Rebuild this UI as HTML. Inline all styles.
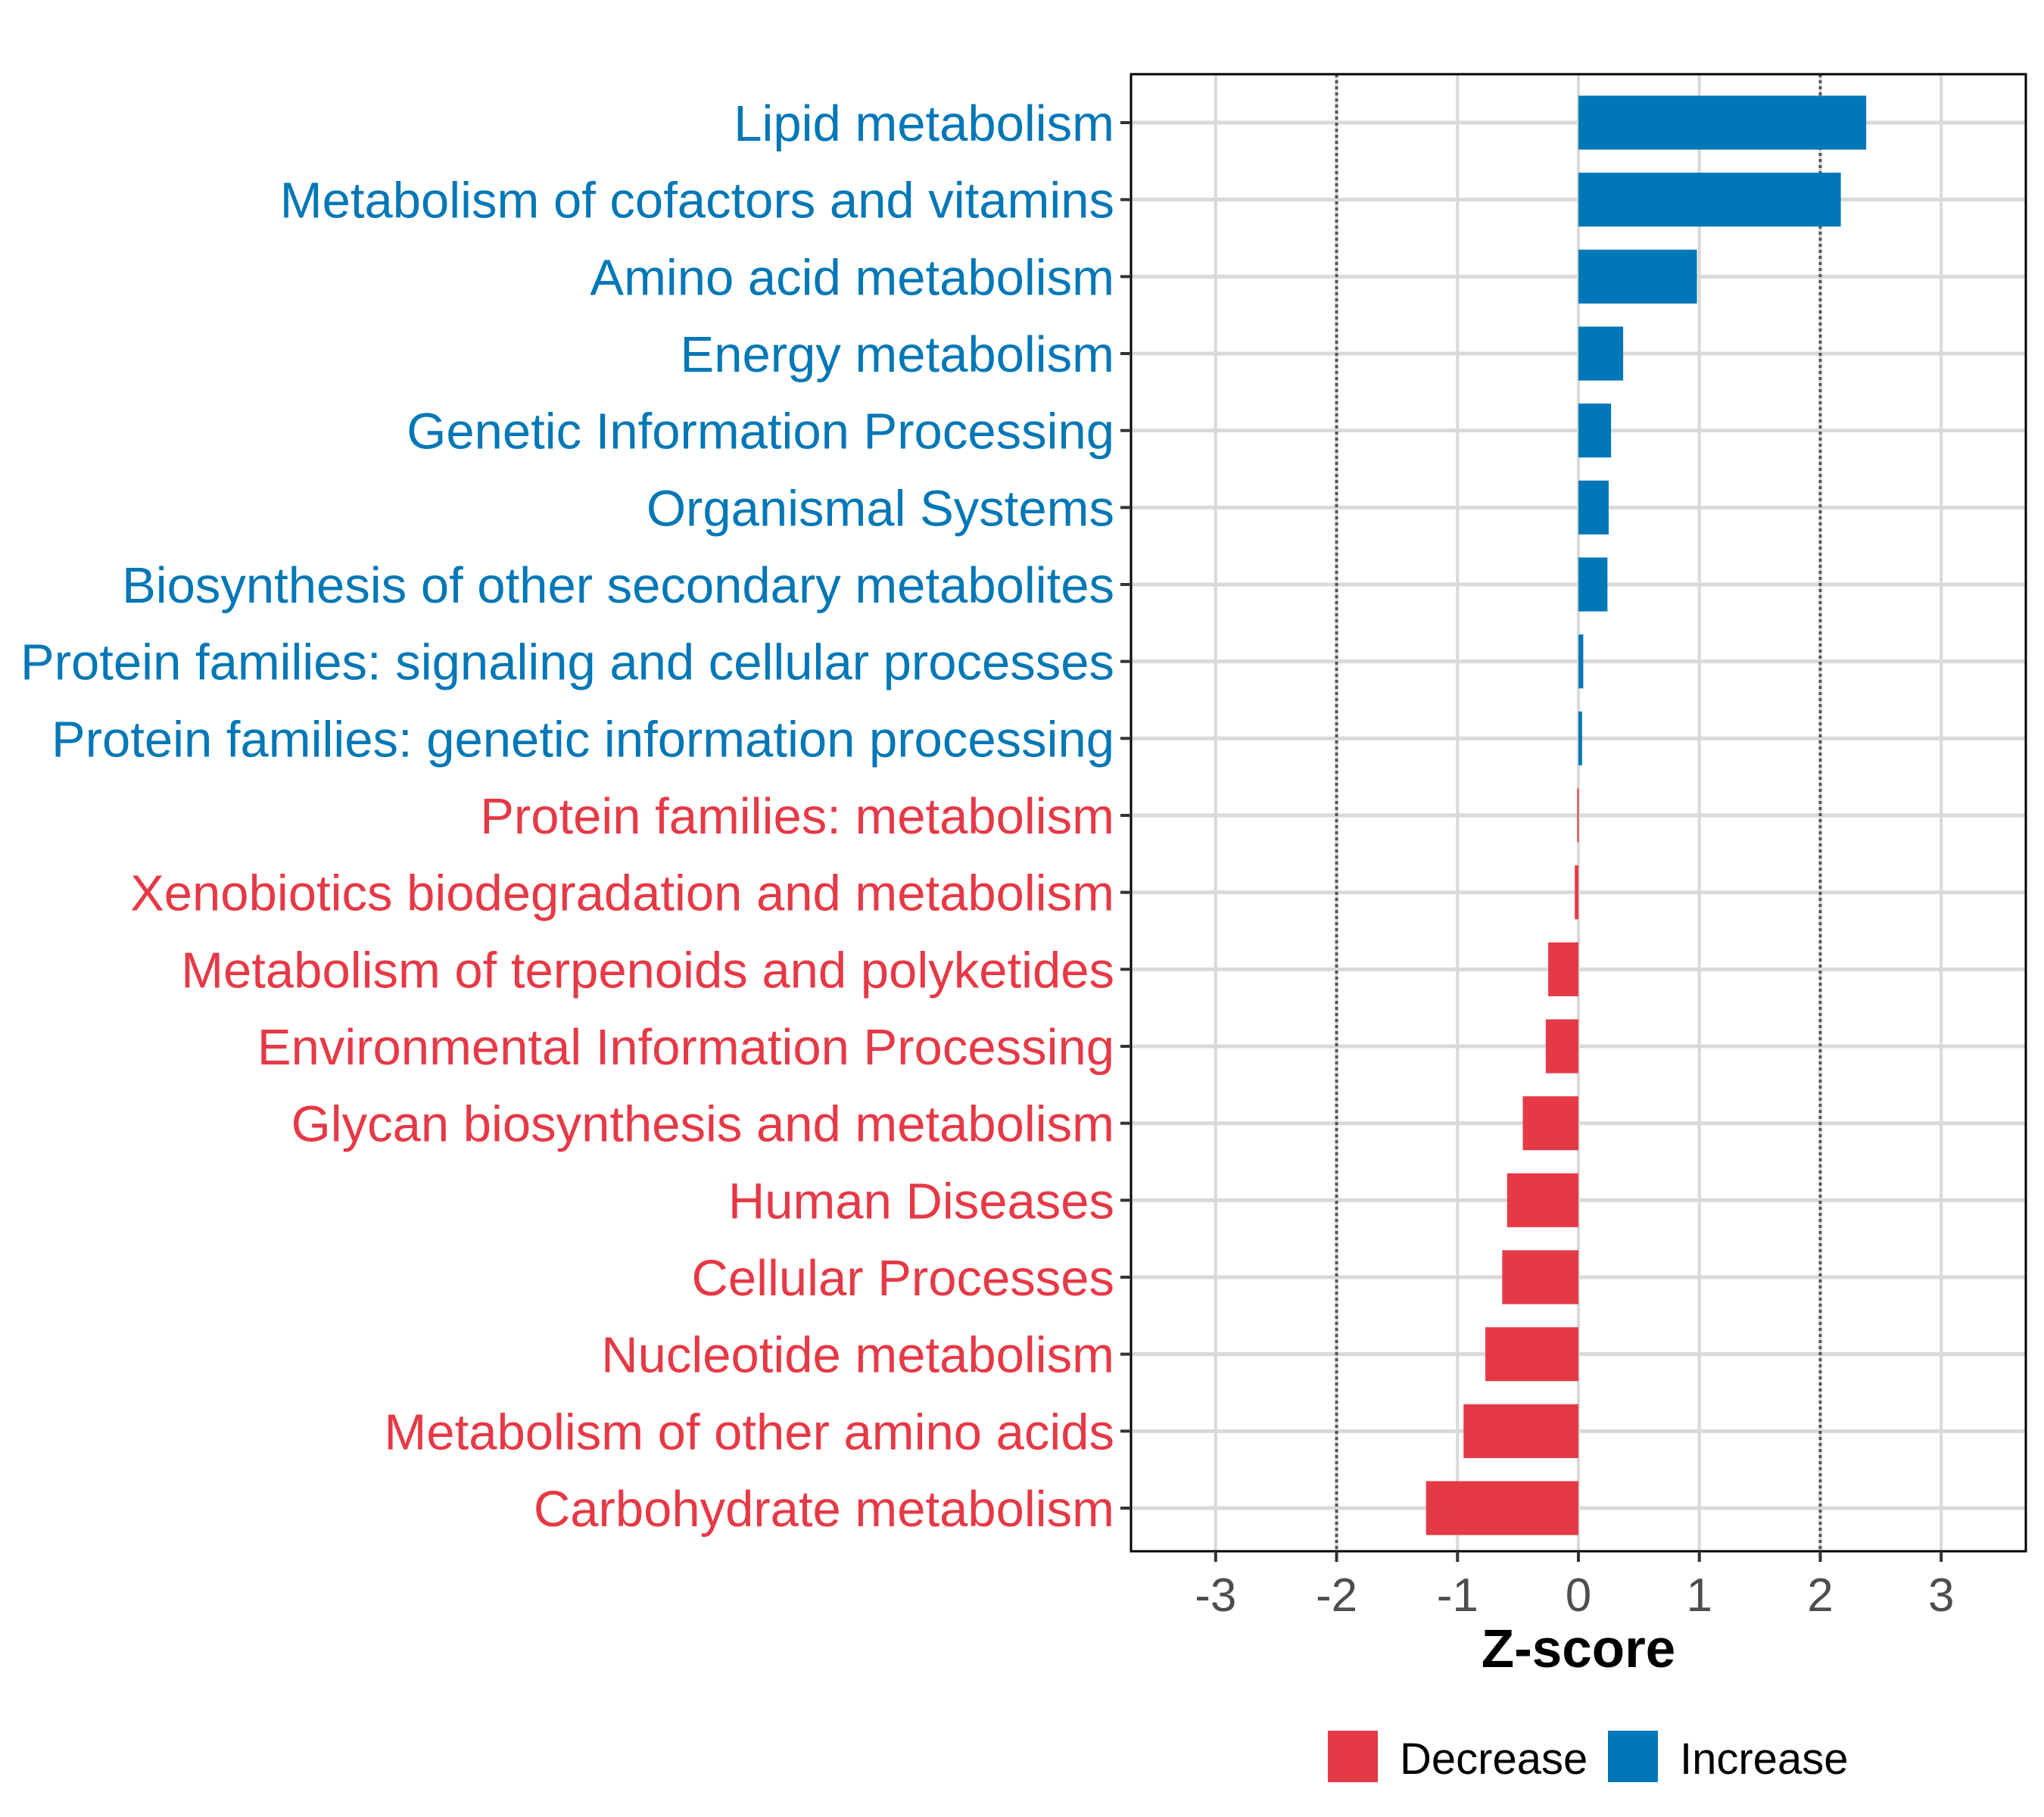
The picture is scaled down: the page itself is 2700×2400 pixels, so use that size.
<!DOCTYPE html>
<html><head><meta charset="utf-8"><style>
html,body{margin:0;padding:0;background:#fff;}
svg{display:block;font-family:"Liberation Sans",Arial,sans-serif;}
</style></head><body>
<svg id="chart" width="2700" height="2400" viewBox="0 0 2700 2400" xmlns="http://www.w3.org/2000/svg">
<rect width="2700" height="2400" fill="#fff"/>
<g id="grid"></g><g id="bars"></g><g id="frame"></g><g id="labels"></g>
</svg>
<script>
const categories = ["Lipid metabolism","Metabolism of cofactors and vitamins","Amino acid metabolism","Energy metabolism","Genetic Information Processing","Organismal Systems","Biosynthesis of other secondary metabolites","Protein families: signaling and cellular processes","Protein families: genetic information processing","Protein families: metabolism","Xenobiotics biodegradation and metabolism","Metabolism of terpenoids and polyketides","Environmental Information Processing","Glycan biosynthesis and metabolism","Human Diseases","Cellular Processes","Nucleotide metabolism","Metabolism of other amino acids","Carbohydrate metabolism"];
const zscores = [2.38,2.17,0.98,0.37,0.27,0.25,0.24,0.04,0.03,-0.01,-0.03,-0.25,-0.27,-0.46,-0.59,-0.63,-0.77,-0.95,-1.26];
const xTicks = [-3,-2,-1,0,1,2,3];
const xTickLabels = ["-3","-2","-1","0","1","2","3"];
const thresholds = [-2,2];

const NS="http://www.w3.org/2000/svg";
const L=1494,R=2676,T=98,B=2049,xmin=-3.7,xmax=3.7;
const RED="#e63946",BLUE="#0077b6";
function xs(v){return L+(v-xmin)/(xmax-xmin)*(R-L);}
const yFirst=162,yLast=1992;
function ys(i){return yFirst+i*(yLast-yFirst)/(categories.length-1);}
const band=(yLast-yFirst)/(categories.length-1);
function mk(tag,attrs,parent,text){const e=document.createElementNS(NS,tag);for(const k in attrs)e.setAttribute(k,attrs[k]);if(text!==undefined)e.textContent=text;parent.appendChild(e);return e;}
const g=document.getElementById('grid'),b=document.getElementById('bars'),f=document.getElementById('frame'),lab=document.getElementById('labels');
xTicks.forEach((t,i)=>{
  const ln=mk('line',{x1:xs(t),x2:xs(t),y1:T,y2:B,stroke:'#d9d9d9','stroke-width':4},g);
  
  
});
categories.forEach((c,i)=>{
  const ln=mk('line',{x1:L,x2:R,y1:ys(i),y2:ys(i),stroke:'#d9d9d9','stroke-width':5},g);
  
  
});
thresholds.forEach(t=>{
  const ln=mk('line',{x1:xs(t),x2:xs(t),y1:T,y2:B,stroke:'#555','stroke-width':4,'stroke-dasharray':'4 4'},g);
  
  
});
zscores.forEach((v,i)=>{
  const x0=xs(0),x1=xs(v),h=band*0.7;
  const r=mk('rect',{x:Math.min(x0,x1),y:ys(i)-h/2,width:Math.max(Math.abs(x1-x0),2),height:h,fill:v>=0?BLUE:RED},b);
  
  
});
const fr=mk('rect',{x:L,y:T,width:R-L,height:B-T,fill:'none',stroke:'#000','stroke-width':3},f);


categories.forEach((c,i)=>{
  const tk=mk('line',{x1:L-14,x2:L,y1:ys(i),y2:ys(i),stroke:'#333','stroke-width':4},lab);
  
  
  const t=mk('text',{x:L-22,y:ys(i)+24,'text-anchor':'end','font-size':67,fill:zscores[i]>=0?BLUE:RED},lab,c);
  
  
});
xTicks.forEach((t,i)=>{
  const tk=mk('line',{x1:xs(t),x2:xs(t),y1:B,y2:B+14,stroke:'#333','stroke-width':4},lab);
  
  
  const tx=mk('text',{x:xs(t),y:B+79,'text-anchor':'middle','font-size':62,fill:'#4d4d4d'},lab,xTickLabels[i]);
  
  
});
const ttl=mk('text',{x:xs(0),y:2202,'text-anchor':'middle','font-size':71,'font-weight':'bold',fill:'#000'},lab,'Z-score');


const legend=[["Decrease",RED,1754],["Increase",BLUE,2124]];
legend.forEach(([name,col,x])=>{
  const s=mk('rect',{x:x,y:2286,width:66,height:68,fill:col},lab);
  
  
  const t=mk('text',{x:x+95,y:2343,'font-size':58,fill:'#000'},lab,name);
  
  
});
</script>
</body></html>
